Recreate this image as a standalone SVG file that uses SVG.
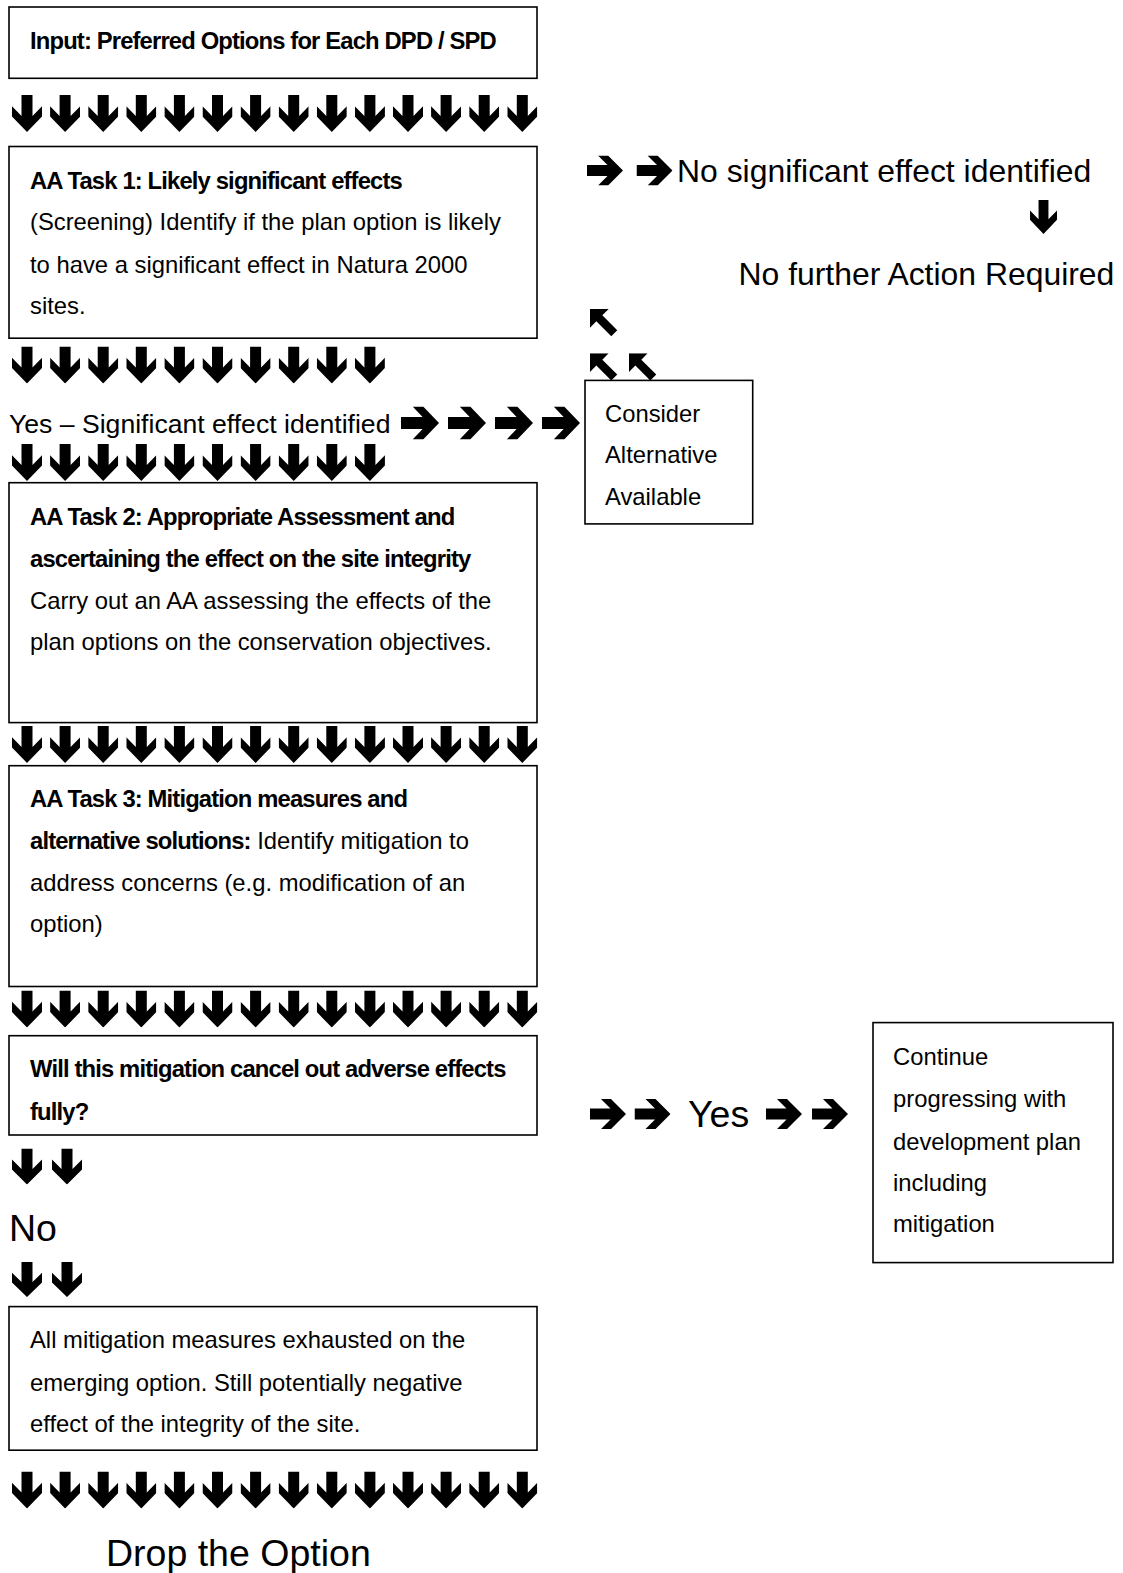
<svg xmlns="http://www.w3.org/2000/svg" xmlns:xlink="http://www.w3.org/1999/xlink" width="1123" height="1573" viewBox="0 0 1123 1573">
<style>
  .box { fill: #ffffff; stroke: #000000; stroke-width: 1.6; }
  .t { font-family: "Liberation Sans", Arial, Helvetica, sans-serif; font-size: 23.8px; fill: #000000; }
  .b { font-weight: bold; letter-spacing: -0.85px; }
  .big { font-size: 31.9px; }
  .mid { font-size: 26.6px; }
  .huge { font-size: 37.5px; }
  .arrow { fill: #000000; }
</style>
<defs>
  <symbol id="ad" viewBox="0 0 30 36" preserveAspectRatio="none">
    <path class="arrow" d="M9.5,0 H20.5 V20.5 L30,11 V21 L15,36 L0,21 V11 L9.5,20.5 Z"/>
  </symbol>
  <symbol id="ar" viewBox="0 0 36 30" preserveAspectRatio="none">
    <path class="arrow" d="M0,9.5 L20.5,9.5 L11,0 L21,0 L36,15 L21,30 L11,30 L20.5,20.5 L0,20.5 Z"/>
  </symbol>
  <symbol id="aul" viewBox="0 0 30 30" preserveAspectRatio="none">
    <path class="arrow" d="M0,0 L20,0 L13.2,6.8 L29.2,22.8 L22.8,29.2 L6.8,13.2 L0,20 Z"/>
  </symbol>
</defs>

<g id="connectors">
  <!-- row 1: 14 down arrows -->
  <g id="row1">
    <use xlink:href="#ad" href="#ad" x="12" y="95" width="30" height="37"/>
    <use xlink:href="#ad" href="#ad" x="50.1" y="95" width="30" height="37"/>
    <use xlink:href="#ad" href="#ad" x="88.2" y="95" width="30" height="37"/>
    <use xlink:href="#ad" href="#ad" x="126.3" y="95" width="30" height="37"/>
    <use xlink:href="#ad" href="#ad" x="164.4" y="95" width="30" height="37"/>
    <use xlink:href="#ad" href="#ad" x="202.5" y="95" width="30" height="37"/>
    <use xlink:href="#ad" href="#ad" x="240.6" y="95" width="30" height="37"/>
    <use xlink:href="#ad" href="#ad" x="278.7" y="95" width="30" height="37"/>
    <use xlink:href="#ad" href="#ad" x="316.8" y="95" width="30" height="37"/>
    <use xlink:href="#ad" href="#ad" x="354.9" y="95" width="30" height="37"/>
    <use xlink:href="#ad" href="#ad" x="393" y="95" width="30" height="37"/>
    <use xlink:href="#ad" href="#ad" x="431.1" y="95" width="30" height="37"/>
    <use xlink:href="#ad" href="#ad" x="469.2" y="95" width="30" height="37"/>
    <use xlink:href="#ad" href="#ad" x="507.3" y="95" width="30" height="37"/>
  </g>
  <!-- row 2: 10 down arrows -->
  <g id="row2">
    <use xlink:href="#ad" href="#ad" x="12" y="346.5" width="30" height="37"/>
    <use xlink:href="#ad" href="#ad" x="50.1" y="346.5" width="30" height="37"/>
    <use xlink:href="#ad" href="#ad" x="88.2" y="346.5" width="30" height="37"/>
    <use xlink:href="#ad" href="#ad" x="126.3" y="346.5" width="30" height="37"/>
    <use xlink:href="#ad" href="#ad" x="164.4" y="346.5" width="30" height="37"/>
    <use xlink:href="#ad" href="#ad" x="202.5" y="346.5" width="30" height="37"/>
    <use xlink:href="#ad" href="#ad" x="240.6" y="346.5" width="30" height="37"/>
    <use xlink:href="#ad" href="#ad" x="278.7" y="346.5" width="30" height="37"/>
    <use xlink:href="#ad" href="#ad" x="316.8" y="346.5" width="30" height="37"/>
    <use xlink:href="#ad" href="#ad" x="354.9" y="346.5" width="30" height="37"/>
  </g>
  <!-- right arrows after "Yes - Significant effect identified" -->
  <g id="row-yes-sig">
    <use xlink:href="#ar" href="#ar" x="401" y="406.5" width="38" height="33"/>
    <use xlink:href="#ar" href="#ar" x="448" y="406.5" width="38" height="33"/>
    <use xlink:href="#ar" href="#ar" x="495" y="406.5" width="38" height="33"/>
    <use xlink:href="#ar" href="#ar" x="542" y="406.5" width="38" height="33"/>
  </g>
  <!-- row 3: 10 down arrows -->
  <g id="row3">
    <use xlink:href="#ad" href="#ad" x="12" y="444" width="30" height="37"/>
    <use xlink:href="#ad" href="#ad" x="50.1" y="444" width="30" height="37"/>
    <use xlink:href="#ad" href="#ad" x="88.2" y="444" width="30" height="37"/>
    <use xlink:href="#ad" href="#ad" x="126.3" y="444" width="30" height="37"/>
    <use xlink:href="#ad" href="#ad" x="164.4" y="444" width="30" height="37"/>
    <use xlink:href="#ad" href="#ad" x="202.5" y="444" width="30" height="37"/>
    <use xlink:href="#ad" href="#ad" x="240.6" y="444" width="30" height="37"/>
    <use xlink:href="#ad" href="#ad" x="278.7" y="444" width="30" height="37"/>
    <use xlink:href="#ad" href="#ad" x="316.8" y="444" width="30" height="37"/>
    <use xlink:href="#ad" href="#ad" x="354.9" y="444" width="30" height="37"/>
  </g>
  <!-- row 4: 14 down arrows -->
  <g id="row4">
    <use xlink:href="#ad" href="#ad" x="12" y="726" width="30" height="37"/>
    <use xlink:href="#ad" href="#ad" x="50.1" y="726" width="30" height="37"/>
    <use xlink:href="#ad" href="#ad" x="88.2" y="726" width="30" height="37"/>
    <use xlink:href="#ad" href="#ad" x="126.3" y="726" width="30" height="37"/>
    <use xlink:href="#ad" href="#ad" x="164.4" y="726" width="30" height="37"/>
    <use xlink:href="#ad" href="#ad" x="202.5" y="726" width="30" height="37"/>
    <use xlink:href="#ad" href="#ad" x="240.6" y="726" width="30" height="37"/>
    <use xlink:href="#ad" href="#ad" x="278.7" y="726" width="30" height="37"/>
    <use xlink:href="#ad" href="#ad" x="316.8" y="726" width="30" height="37"/>
    <use xlink:href="#ad" href="#ad" x="354.9" y="726" width="30" height="37"/>
    <use xlink:href="#ad" href="#ad" x="393" y="726" width="30" height="37"/>
    <use xlink:href="#ad" href="#ad" x="431.1" y="726" width="30" height="37"/>
    <use xlink:href="#ad" href="#ad" x="469.2" y="726" width="30" height="37"/>
    <use xlink:href="#ad" href="#ad" x="507.3" y="726" width="30" height="37"/>
  </g>
  <!-- row 5: 14 down arrows -->
  <g id="row5">
    <use xlink:href="#ad" href="#ad" x="12" y="990.5" width="30" height="37"/>
    <use xlink:href="#ad" href="#ad" x="50.1" y="990.5" width="30" height="37"/>
    <use xlink:href="#ad" href="#ad" x="88.2" y="990.5" width="30" height="37"/>
    <use xlink:href="#ad" href="#ad" x="126.3" y="990.5" width="30" height="37"/>
    <use xlink:href="#ad" href="#ad" x="164.4" y="990.5" width="30" height="37"/>
    <use xlink:href="#ad" href="#ad" x="202.5" y="990.5" width="30" height="37"/>
    <use xlink:href="#ad" href="#ad" x="240.6" y="990.5" width="30" height="37"/>
    <use xlink:href="#ad" href="#ad" x="278.7" y="990.5" width="30" height="37"/>
    <use xlink:href="#ad" href="#ad" x="316.8" y="990.5" width="30" height="37"/>
    <use xlink:href="#ad" href="#ad" x="354.9" y="990.5" width="30" height="37"/>
    <use xlink:href="#ad" href="#ad" x="393" y="990.5" width="30" height="37"/>
    <use xlink:href="#ad" href="#ad" x="431.1" y="990.5" width="30" height="37"/>
    <use xlink:href="#ad" href="#ad" x="469.2" y="990.5" width="30" height="37"/>
    <use xlink:href="#ad" href="#ad" x="507.3" y="990.5" width="30" height="37"/>
  </g>
  <!-- two down arrows above and below "No" -->
  <g id="row-no-top">
    <use xlink:href="#ad" href="#ad" x="12" y="1148.5" width="30" height="36"/>
    <use xlink:href="#ad" href="#ad" x="52" y="1148.5" width="30" height="36"/>
  </g>
  <g id="row-no-bottom">
    <use xlink:href="#ad" href="#ad" x="12" y="1262" width="30" height="35"/>
    <use xlink:href="#ad" href="#ad" x="52" y="1262" width="30" height="35"/>
  </g>
  <!-- row 6: 14 down arrows -->
  <g id="row6">
    <use xlink:href="#ad" href="#ad" x="12" y="1471.5" width="30" height="37"/>
    <use xlink:href="#ad" href="#ad" x="50.1" y="1471.5" width="30" height="37"/>
    <use xlink:href="#ad" href="#ad" x="88.2" y="1471.5" width="30" height="37"/>
    <use xlink:href="#ad" href="#ad" x="126.3" y="1471.5" width="30" height="37"/>
    <use xlink:href="#ad" href="#ad" x="164.4" y="1471.5" width="30" height="37"/>
    <use xlink:href="#ad" href="#ad" x="202.5" y="1471.5" width="30" height="37"/>
    <use xlink:href="#ad" href="#ad" x="240.6" y="1471.5" width="30" height="37"/>
    <use xlink:href="#ad" href="#ad" x="278.7" y="1471.5" width="30" height="37"/>
    <use xlink:href="#ad" href="#ad" x="316.8" y="1471.5" width="30" height="37"/>
    <use xlink:href="#ad" href="#ad" x="354.9" y="1471.5" width="30" height="37"/>
    <use xlink:href="#ad" href="#ad" x="393" y="1471.5" width="30" height="37"/>
    <use xlink:href="#ad" href="#ad" x="431.1" y="1471.5" width="30" height="37"/>
    <use xlink:href="#ad" href="#ad" x="469.2" y="1471.5" width="30" height="37"/>
    <use xlink:href="#ad" href="#ad" x="507.3" y="1471.5" width="30" height="37"/>
  </g>
  <!-- right side: no significant effect branch -->
  <g id="row-no-sig">
    <use xlink:href="#ar" href="#ar" x="587" y="155.5" width="36" height="30"/>
    <use xlink:href="#ar" href="#ar" x="636.5" y="155.5" width="36" height="30"/>
  </g>
  <use id="arrow-no-further" xlink:href="#ad" href="#ad" x="1030" y="200" width="27" height="34"/>
  <!-- up-left arrows from Consider Alternative -->
  <g id="row-up-left">
    <use xlink:href="#aul" href="#aul" x="590" y="309" width="28" height="28"/>
    <use xlink:href="#aul" href="#aul" x="590" y="353.3" width="28" height="28"/>
    <use xlink:href="#aul" href="#aul" x="629" y="353.3" width="28" height="28"/>
  </g>
  <!-- Yes branch to Continue -->
  <g id="row-yes">
    <use xlink:href="#ar" href="#ar" x="590" y="1099" width="36" height="30"/>
    <use xlink:href="#ar" href="#ar" x="634.5" y="1099" width="36" height="30"/>
    <use xlink:href="#ar" href="#ar" x="766" y="1099" width="36" height="30"/>
    <use xlink:href="#ar" href="#ar" x="812" y="1099" width="36" height="30"/>
  </g>
</g>

<g id="node-input">
  <rect class="box" x="9" y="7" width="528" height="71.3"/>
  <text class="t b" x="30" y="48.5">Input: Preferred Options for Each DPD / SPD</text>
</g>

<g id="node-task1">
  <rect class="box" x="9" y="146.5" width="528" height="191.7"/>
  <text class="t b" x="30" y="189.2">AA Task 1: Likely significant effects</text>
  <text class="t" x="30" y="230.4">(Screening) Identify if the plan option is likely</text>
  <text class="t" x="30" y="272.5">to have a significant effect in Natura 2000</text>
  <text class="t" x="30" y="313.7">sites.</text>
</g>

<g id="label-yes-significant">
  <text class="t mid" x="9" y="433">Yes – Significant effect identified</text>
</g>

<g id="node-task2">
  <rect class="box" x="9" y="482.7" width="528" height="239.9"/>
  <text class="t b" x="30" y="525.4">AA Task 2: Appropriate Assessment and</text>
  <text class="t b" x="30" y="566.6">ascertaining the effect on the site integrity</text>
  <text class="t" x="30" y="608.7">Carry out an AA assessing the effects of the</text>
  <text class="t" x="30" y="649.9">plan options on the conservation objectives.</text>
</g>

<g id="node-task3">
  <rect class="box" x="9" y="765.7" width="528" height="220.8"/>
  <text class="t b" x="30" y="807.4">AA Task 3: Mitigation measures and</text>
  <text class="t" x="30" y="848.6"><tspan class="b">alternative solutions:</tspan> Identify mitigation to</text>
  <text class="t" x="30" y="890.7">address concerns (e.g. modification of an</text>
  <text class="t" x="30" y="931.9">option)</text>
</g>

<g id="node-question">
  <rect class="box" x="9" y="1035.7" width="528" height="99.3"/>
  <text class="t b" x="30" y="1077.4">Will this mitigation cancel out adverse effects</text>
  <text class="t b" x="30" y="1119.6">fully?</text>
</g>

<g id="label-no">
  <text class="t huge" x="9" y="1240.5">No</text>
</g>

<g id="node-exhausted">
  <rect class="box" x="9" y="1306.6" width="528" height="143.6"/>
  <text class="t" x="30" y="1348.4">All mitigation measures exhausted on the</text>
  <text class="t" x="30" y="1390.5">emerging option. Still potentially negative</text>
  <text class="t" x="30" y="1431.6">effect of the integrity of the site.</text>
</g>

<g id="node-drop">
  <text class="t huge" x="106" y="1566">Drop the Option</text>
</g>

<g id="node-no-significant">
  <text class="t big" x="677" y="182">No significant effect identified</text>
</g>

<g id="node-no-further">
  <text class="t big" x="738.5" y="284.5">No further Action Required</text>
</g>

<g id="node-consider">
  <rect class="box" x="585" y="380.4" width="167.7" height="143.5"/>
  <text class="t" x="605" y="422">Consider</text>
  <text class="t" x="605" y="463.1">Alternative</text>
  <text class="t" x="605" y="505.3">Available</text>
</g>

<g id="label-yes">
  <text class="t huge" x="688" y="1127">Yes</text>
</g>

<g id="node-continue">
  <rect class="box" x="873" y="1022.6" width="240" height="240"/>
  <text class="t" x="893" y="1065.3">Continue</text>
  <text class="t" x="893" y="1107.4">progressing with</text>
  <text class="t" x="893" y="1149.6">development plan</text>
  <text class="t" x="893" y="1190.7">including</text>
  <text class="t" x="893" y="1231.9">mitigation</text>
</g>
</svg>
